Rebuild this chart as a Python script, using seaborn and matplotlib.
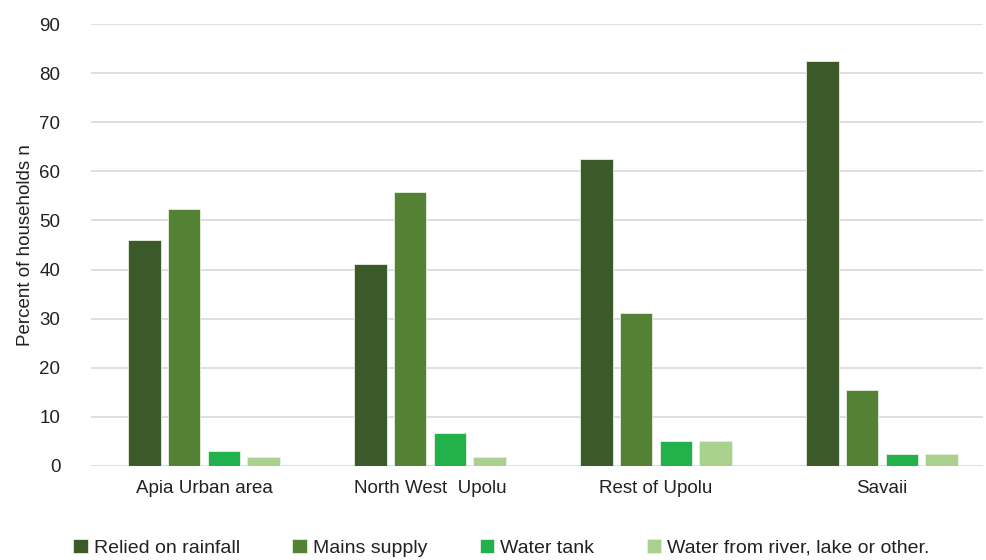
import seaborn as sns
import matplotlib.pyplot as plt
import pandas as pd

sns.set_style("white")
plt.rcParams['font.family'] = ['Liberation Sans', 'DejaVu Sans']

regions = ["Apia Urban area", "North West  Upolu", "Rest of Upolu", "Savaii"]
sources = ["Relied on rainfall", "Mains supply", "Water tank", "Water from river, lake or other."]
rainfall = [46.0, 41.1, 62.6, 82.4]
mains = [52.4, 55.7, 31.1, 15.4]
tank = [3.1, 6.8, 5.0, 2.4]
river = [1.9, 1.9, 5.0, 2.4]
colors = ["#3C5A29", "#548235", "#21B24C", "#A9D18E"]

rows = []
for src, vals in zip(sources, [rainfall, mains, tank, river]):
    for reg, v in zip(regions, vals):
        rows.append({"region": reg, "source": src, "value": v})
df = pd.DataFrame(rows)

fig = plt.figure(figsize=(9.86, 5.6), dpi=100)
ax = fig.add_axes([0.0923, 0.168, 0.9047, 0.789])

sns.barplot(data=df, x="region", y="value", hue="source", palette=colors, saturation=1,
            width=0.7, gap=0.18, edgecolor="#e6efe0", linewidth=0.6, ax=ax, zorder=3)

ax.set_ylim(0, 90)
ax.set_xlim(-0.5, 3.447)
ax.set_yticks(range(0, 91, 10))
ax.yaxis.grid(True, color="#d9d9d9", linewidth=1.2, zorder=0)
for s in ax.spines.values():
    s.set_visible(False)
ax.tick_params(axis="both", length=0, labelsize=13.5, colors="#222222")
ax.tick_params(axis="x", pad=10)
ax.tick_params(axis="y", pad=22)
ax.set_xlabel("")
ax.set_ylabel("Percent of households n", fontsize=13.5, color="#222222", labelpad=4)

ax.legend(loc="upper center", bbox_to_anchor=(0.46, -0.125), ncol=4, frameon=False,
          fontsize=14, handlelength=0.75, handleheight=0.75, handletextpad=0.3,
          columnspacing=2.7, labelcolor="#222222")

fig.savefig("out.png", dpi=100)
